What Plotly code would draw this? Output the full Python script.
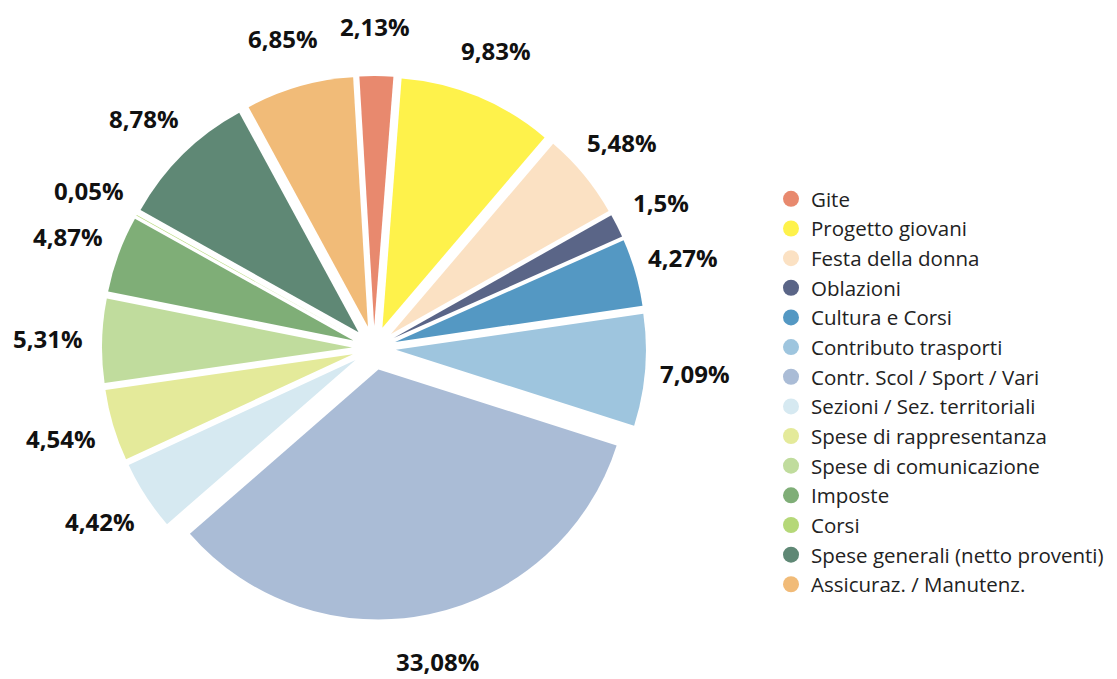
import math
import plotly.graph_objects as go

categories = ["Gite", "Progetto giovani", "Festa della donna", "Oblazioni",
              "Cultura e Corsi", "Contributo trasporti", "Contr. Scol / Sport / Vari",
              "Sezioni / Sez. territoriali", "Spese di rappresentanza",
              "Spese di comunicazione", "Imposte", "Corsi",
              "Spese generali (netto proventi)", "Assicuraz. / Manutenz."]
values = [2.13, 9.83, 5.48, 1.5, 4.27, 7.09, 33.08, 4.42, 4.54, 5.31, 4.87, 0.05, 8.78, 6.85]
colors = ["#E8896E", "#FEF24B", "#FBE1C3", "#5A6587", "#5498C3", "#9EC5DE", "#AABCD6",
          "#D6E9F1", "#E4EA9A", "#C0DC9D", "#7FAE77", "#B5D878", "#5F8875", "#F1BB78"]

labels_text = [str(v).replace(".", ",") + "%" for v in values]

W, H = 1117, 679
cx, cy, R = 374, 348, 272
ROT = -3.4
LBL_CX, LBL_CY, LBL_R = 372, 347, 321

fig = go.Figure()
fig.add_trace(go.Pie(
    labels=categories, values=values, sort=False, direction="clockwise",
    rotation=ROT,
    marker=dict(colors=colors, line=dict(width=0)),
    pull=0.088,
    textinfo="none",
    showlegend=False, hoverinfo="label+value",
    domain=dict(x=[(cx - R) / W, (cx + R) / W], y=[(H - cy - R) / H, (H - cy + R) / H]),
))

# percentage labels placed at each slice's mid-angle on a circle around the pie
total = sum(values)
cum = 0.0
for v, t in zip(values, labels_text):
    mid = (cum + v / 2) / total * 360 + ROT
    cum += v
    a = math.radians(mid)
    px = LBL_CX + (LBL_R + 3) * math.sin(a)
    py = LBL_CY - LBL_R * math.cos(a)
    fig.add_annotation(x=px / W, y=1 - py / H, xref="paper", yref="paper",
                       text=t, showarrow=False, xanchor="center", yanchor="middle",
                       borderpad=0,
                       font=dict(family="Open Sans", size=24, color="#111111", weight="bold"))

for c, col in zip(categories, colors):
    fig.add_trace(go.Scatter(x=[None], y=[None], mode="markers", name=c,
                             marker=dict(symbol="circle", size=21, color=col),
                             showlegend=True))

fig.update_layout(
    width=W, height=H,
    margin=dict(l=0, r=0, t=0, b=0, autoexpand=False),
    paper_bgcolor="white", plot_bgcolor="white",
    xaxis=dict(visible=False), yaxis=dict(visible=False),
    font=dict(family="Open Sans", color="#222222"),
    legend=dict(x=(771) / W, y=1 - 179 / H, xanchor="left", yanchor="top",
                font=dict(family="Open Sans", size=20.5, color="#222222"),
                itemsizing="trace", bgcolor="rgba(0,0,0,0)"),
)

fig.write_html("out.html", config={"displayModeBar": False},
               post_script="document.body.style.margin='0';")
